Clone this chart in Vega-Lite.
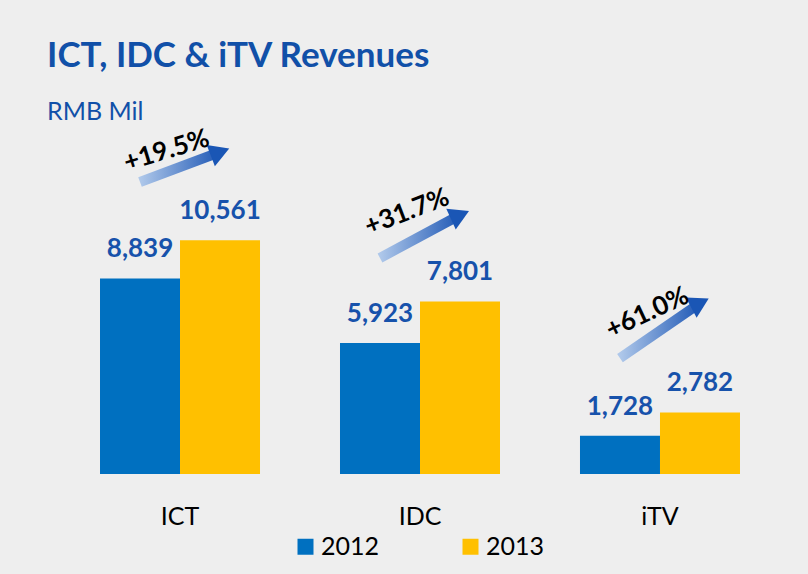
{
  "$schema": "https://vega.github.io/schema/vega-lite/v6.json",
  "width": 720,
  "height": 344,
  "autosize": "none",
  "padding": {"left": 60, "top": 130, "right": 28, "bottom": 100},
  "background": "#EEEEEE",
  "title": {
    "text": "ICT, IDC & iTV Revenues",
    "subtitle": "RMB Mil",
    "anchor": "start",
    "frame": "group",
    "font": "Lato",
    "fontSize": 35,
    "fontWeight": "bold",
    "color": "#1150A8",
    "subtitleFont": "Lato",
    "subtitleFontSize": 25,
    "subtitleColor": "#1150A8",
    "subtitlePadding": 26,
    "offset": 8,
    "dx": -13,
    "dy": 8
  },
  "datasets": {
    "bars": [
      {"category": "ICT", "year": "2012", "value": 8839},
      {"category": "ICT", "year": "2013", "value": 10561},
      {"category": "IDC", "year": "2012", "value": 5923},
      {"category": "IDC", "year": "2013", "value": 7801},
      {"category": "iTV", "year": "2012", "value": 1728},
      {"category": "iTV", "year": "2013", "value": 2782}
    ],
    "arrows": [
      {"category": "ICT", "year": "2012", "level": 13198},
      {"category": "ICT", "year": "2013", "level": 14554},
      {"category": "IDC", "year": "2012", "level": 9763},
      {"category": "IDC", "year": "2013", "level": 11707},
      {"category": "iTV", "year": "2012", "level": 5243},
      {"category": "iTV", "year": "2013", "level": 7729}
    ],
    "growth": [
      {"category": "ICT", "growth": "+19.5%", "level": 14800},
      {"category": "IDC", "growth": "+31.7%", "level": 12068},
      {"category": "iTV", "growth": "+61.0%", "level": 7548}
    ]
  },
  "encoding": {
    "x": {
      "field": "category",
      "type": "nominal",
      "sort": ["ICT", "IDC", "iTV"],
      "scale": {"paddingInner": 0.3333, "paddingOuter": 0.1667},
      "axis": {
        "title": null,
        "domain": false,
        "ticks": false,
        "labelAngle": 0,
        "labelFont": "Lato",
        "labelFontSize": 25,
        "labelColor": "#000000",
        "labelPadding": 30
      }
    }
  },
  "layer": [
    {
      "data": {"name": "bars"},
      "mark": {"type": "bar"},
      "encoding": {
        "xOffset": {"field": "year", "type": "nominal", "scale": {"paddingInner": 0, "paddingOuter": 0}},
        "y": {"field": "value", "type": "quantitative", "scale": {"domain": [0, 15550], "nice": false}, "axis": null},
        "color": {
          "field": "year",
          "type": "nominal",
          "scale": {"domain": ["2012", "2013"], "range": ["#0070C0", "#FFC000"]},
          "legend": {
            "title": null,
            "orient": "none",
            "legendX": 233,
            "legendY": 404,
            "direction": "horizontal",
            "symbolType": "square",
            "symbolSize": 256,
            "symbolStrokeWidth": 0,
            "labelFont": "Lato",
            "labelFontSize": 25,
            "labelColor": "#000000",
            "labelOffset": 3,
            "columnPadding": 78
          }
        }
      }
    },
    {
      "data": {"name": "bars"},
      "mark": {"type": "text", "font": "Lato", "fontSize": 26, "fontWeight": "bold", "color": "#1752AB", "baseline": "alphabetic", "dy": -21},
      "encoding": {
        "xOffset": {"field": "year", "type": "nominal"},
        "y": {"field": "value", "type": "quantitative"},
        "text": {"field": "value", "type": "quantitative", "format": ",d"}
      }
    },
    {
      "data": {"name": "arrows"},
      "mark": {
        "type": "line",
        "strokeWidth": 10,
        "strokeCap": "butt",
        "stroke": {
          "gradient": "linear",
          "x1": 0, "y1": 0, "x2": 1, "y2": 0,
          "stops": [
            {"offset": 0, "color": "#AFC8EA"},
            {"offset": 1, "color": "#1F58B5"}
          ]
        }
      },
      "encoding": {
        "xOffset": {"field": "year", "type": "nominal"},
        "y": {"field": "level", "type": "quantitative"},
        "detail": {"field": "category", "type": "nominal"}
      }
    },
    {
      "data": {"name": "arrows"},
      "transform": [{"filter": "datum.year == '2013'"}],
      "mark": {"type": "point", "shape": "triangle-up", "filled": true, "size": 520, "opacity": 1, "color": "#1A56B5"},
      "encoding": {
        "xOffset": {"field": "year", "type": "nominal"},
        "y": {"field": "level", "type": "quantitative"},
        "angle": {"field": "category", "type": "nominal", "scale": {"domain": ["ICT", "IDC", "iTV"], "range": [69, 62, 55]}, "legend": null}
      }
    },
    {
      "data": {"name": "growth"},
      "mark": {"type": "text", "font": "Lato", "fontSize": 26, "fontWeight": "bold", "color": "#000000", "baseline": "middle", "align": "center", "dx": -14},
      "encoding": {
        "y": {"field": "level", "type": "quantitative"},
        "text": {"field": "growth", "type": "nominal"},
        "angle": {"field": "growth", "type": "nominal", "scale": {"domain": ["+19.5%", "+31.7%", "+61.0%"], "range": [343, 335, 326]}, "legend": null}
      }
    }
  ],
  "resolve": {"scale": {"angle": "independent"}},
  "config": {
    "view": {"stroke": null}
  }
}
